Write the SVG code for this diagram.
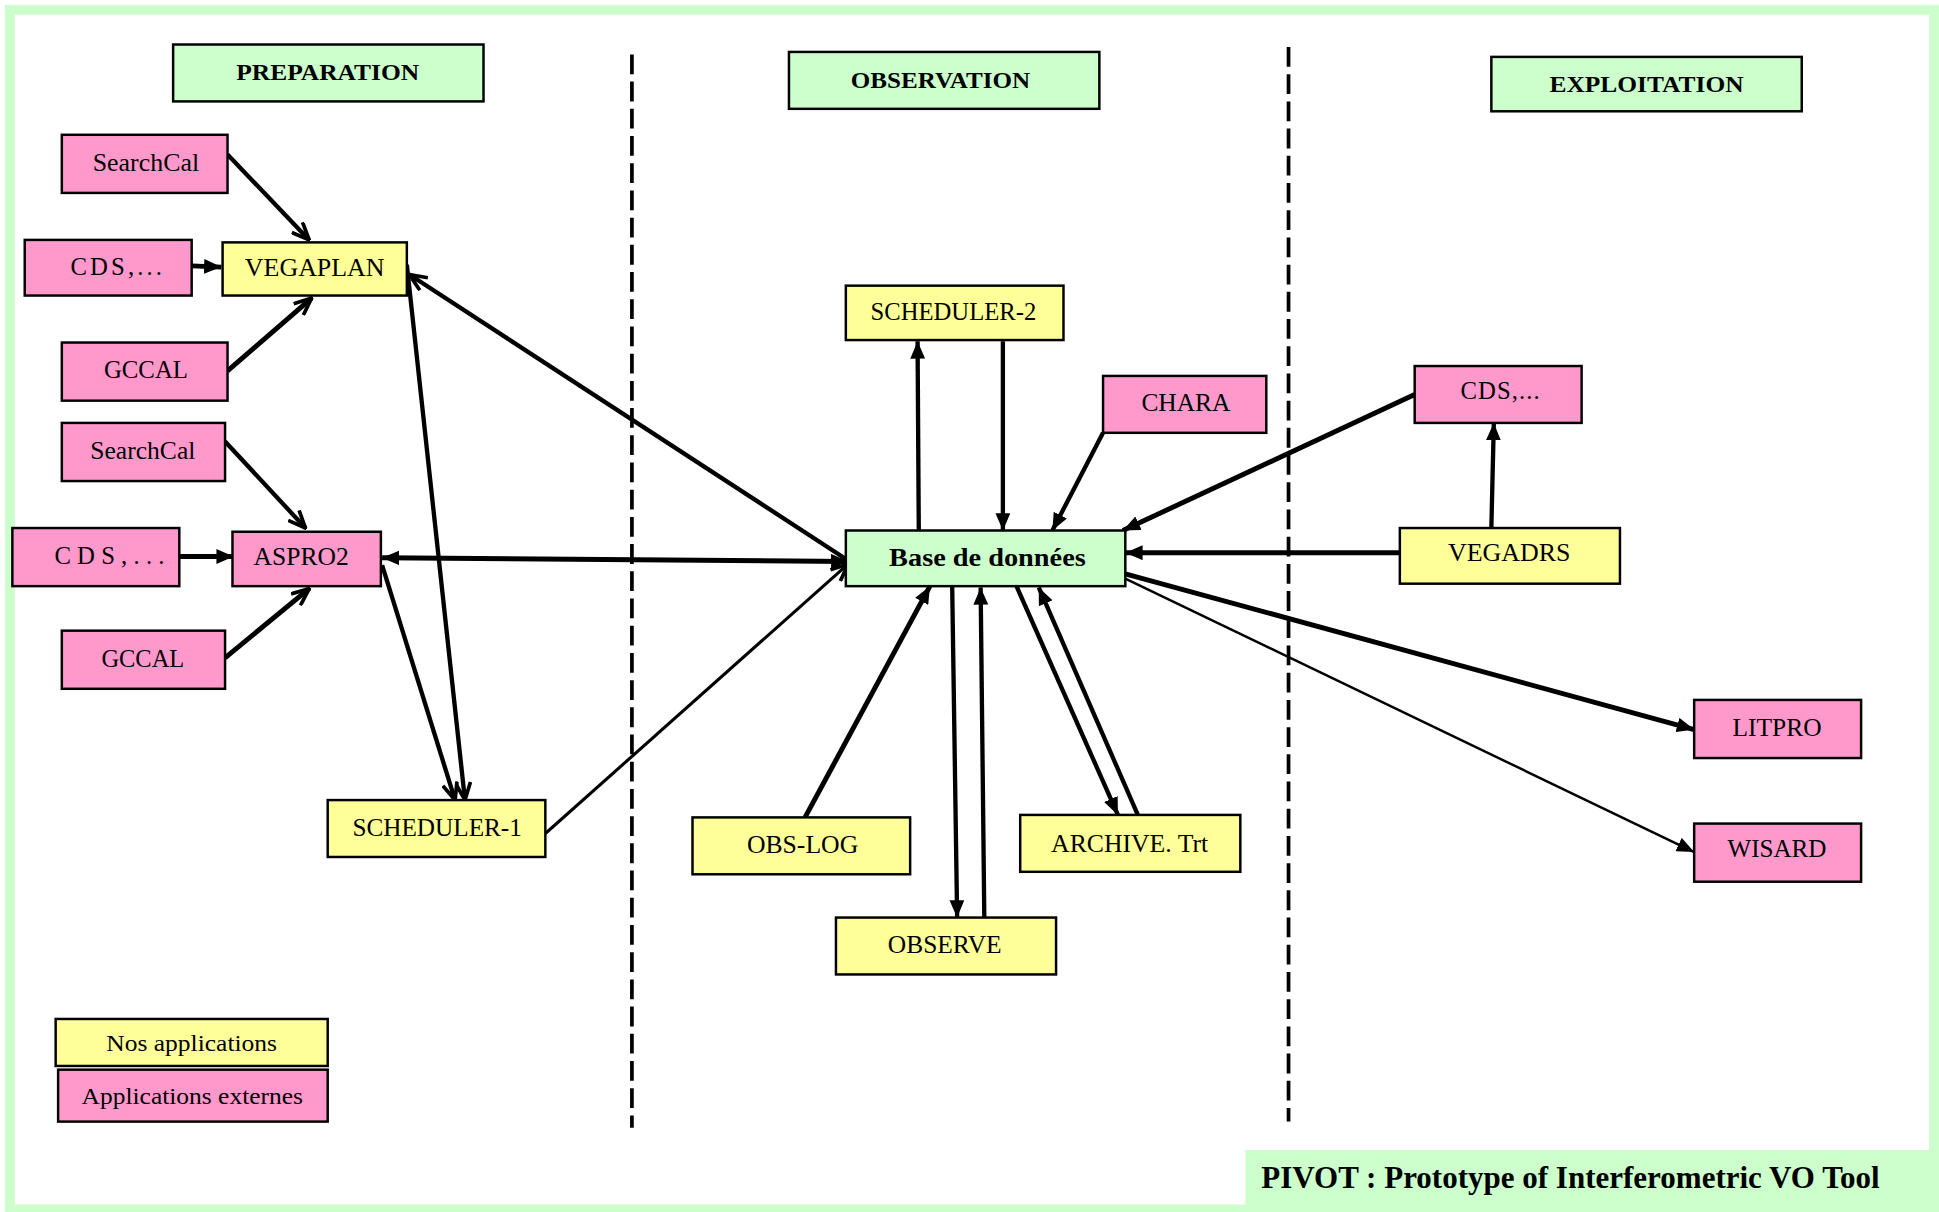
<svg xmlns="http://www.w3.org/2000/svg" width="1939" height="1212" viewBox="0 0 1939 1212">
<style>
.pink{fill:#ff99cc;stroke:#000;stroke-width:2}
.yel{fill:#ffff99;stroke:#000;stroke-width:2}
.grn{fill:#ccffcc;stroke:#000;stroke-width:2}
.lbl{font-family:"Liberation Serif","Times New Roman",serif;font-size:20px;fill:#000}
.hdr{font-family:"Liberation Serif","Times New Roman",serif;font-weight:bold;font-size:19px;fill:#000}
.leg{font-family:"Liberation Serif","Times New Roman",serif;font-size:18px;fill:#000}
.c{fill:none;stroke:#000}
.dash{stroke:#000;stroke-width:3;stroke-dasharray:16 6}
</style>
<defs>
<marker id="f" viewBox="0 0 14 12" refX="14" refY="6" markerWidth="14" markerHeight="12" markerUnits="userSpaceOnUse" orient="auto"><path d="M0,0 L14,6 L0,12 Z" fill="#000"/></marker>
<marker id="fs" viewBox="0 0 14 12" refX="0" refY="6" markerWidth="14" markerHeight="12" markerUnits="userSpaceOnUse" orient="auto"><path d="M14,0 L0,6 L14,12 Z" fill="#000"/></marker>
<marker id="v" viewBox="0 0 16 14" refX="15" refY="7" markerWidth="16" markerHeight="14" markerUnits="userSpaceOnUse" orient="auto"><path d="M1,1 L15,7 L1,13" fill="none" stroke="#000" stroke-width="3"/></marker>
</defs>
<g transform="scale(1.23661)">
<rect x="8" y="8" width="1556" height="970" fill="#fff" stroke="#ccffcc" stroke-width="8"/>
<g id="dividers">
<line class="dash" x1="511" y1="44" x2="511" y2="912"/>
<line class="dash" x1="1042" y1="38" x2="1042" y2="907"/>
</g>
<g id="footer"><rect x="1007" y="930" width="557" height="50" fill="#ccffcc"/>
<text x="1020" y="961" font-family="Liberation Serif,Times New Roman,serif" font-weight="bold" font-size="26" textLength="500" lengthAdjust="spacingAndGlyphs">PIVOT : Prototype of Interferometric VO Tool</text></g>
<g id="h-prep"><rect class="grn" x="140" y="36" width="251" height="46"/><text class="hdr" x="191" y="65" textLength="148" lengthAdjust="spacingAndGlyphs">PREPARATION</text></g>
<g id="h-obs"><rect class="grn" x="638" y="42" width="251" height="46"/><text class="hdr" x="688" y="71" textLength="145" lengthAdjust="spacingAndGlyphs">OBSERVATION</text></g>
<g id="h-exp"><rect class="grn" x="1206" y="46" width="251" height="44"/><text class="hdr" x="1253" y="74" textLength="157" lengthAdjust="spacingAndGlyphs">EXPLOITATION</text></g>

<g id="connectors">
<line class="c" stroke-width="3.5" x1="184" y1="125" x2="250" y2="194" marker-end="url(#v)"/>
<line class="c" stroke-width="4" x1="155" y1="215" x2="179" y2="216" marker-end="url(#f)"/>
<line class="c" stroke-width="4" x1="184" y1="300" x2="252" y2="241" marker-end="url(#v)"/>
<line class="c" stroke-width="3.5" x1="684" y1="452" x2="331" y2="222" marker-end="url(#v)"/>
<line class="c" stroke-width="3.5" x1="329" y1="214" x2="376" y2="647" marker-end="url(#v)"/>
<line class="c" stroke-width="3.5" x1="309" y1="457" x2="368" y2="647" marker-end="url(#v)"/>
<line class="c" stroke-width="3.5" x1="182" y1="357" x2="247" y2="427" marker-end="url(#v)"/>
<line class="c" stroke-width="4" x1="145" y1="450" x2="189" y2="450" marker-end="url(#f)"/>
<line class="c" stroke-width="4" x1="182" y1="532" x2="250" y2="476" marker-end="url(#v)"/>
<line class="c" stroke-width="4" x1="309" y1="451" x2="686" y2="454" marker-start="url(#fs)" marker-end="url(#f)"/>
<line class="c" stroke-width="2.5" x1="441" y1="674" x2="686" y2="456" marker-end="url(#v)"/>
<line class="c" stroke-width="3.5" x1="743" y1="431" x2="742" y2="276" marker-end="url(#f)"/>
<line class="c" stroke-width="3.5" x1="811" y1="276" x2="811" y2="429" marker-end="url(#f)"/>
<line class="c" stroke-width="3.5" x1="892" y1="350" x2="851" y2="429" marker-end="url(#f)"/>
<line class="c" stroke-width="4" x1="1144" y1="319" x2="908" y2="429" marker-end="url(#f)"/>
<line class="c" stroke-width="4" x1="1132" y1="447" x2="910" y2="447" marker-end="url(#f)"/>
<line class="c" stroke-width="3.5" x1="1206" y1="427" x2="1208" y2="342" marker-end="url(#f)"/>
<line class="c" stroke-width="4" x1="910" y1="464" x2="1370" y2="590" marker-end="url(#f)"/>
<line class="c" stroke-width="2" x1="910" y1="468" x2="1370" y2="689" marker-end="url(#f)"/>
<line class="c" stroke-width="4" x1="651" y1="661" x2="752" y2="474" marker-end="url(#f)"/>
<line class="c" stroke-width="3.5" x1="770" y1="474" x2="774" y2="742" marker-end="url(#f)"/>
<line class="c" stroke-width="3.5" x1="796" y1="744" x2="793" y2="475" marker-end="url(#f)"/>
<line class="c" stroke-width="3.5" x1="822" y1="474" x2="904" y2="659" marker-end="url(#f)"/>
<line class="c" stroke-width="3.5" x1="921" y1="661" x2="840" y2="475" marker-end="url(#f)"/>
</g>

<g id="searchcal1"><rect class="pink" x="50" y="109" width="134" height="47"/><text class="lbl" x="75" y="138" textLength="86" lengthAdjust="spacingAndGlyphs">SearchCal</text></g>
<g id="cds1"><rect class="pink" x="20" y="194" width="135" height="45"/><text class="lbl" x="57" y="222" textLength="74" lengthAdjust="spacing">CDS,...</text></g>
<g id="vegaplan"><rect class="yel" x="180" y="196" width="149" height="43"/><text class="lbl" x="198" y="223" textLength="113" lengthAdjust="spacingAndGlyphs">VEGAPLAN</text></g>
<g id="gccal1"><rect class="pink" x="50" y="277" width="134" height="47"/><text class="lbl" x="84" y="306" textLength="68" lengthAdjust="spacingAndGlyphs">GCCAL</text></g>
<g id="searchcal2"><rect class="pink" x="50" y="342" width="132" height="47"/><text class="lbl" x="73" y="371" textLength="85" lengthAdjust="spacingAndGlyphs">SearchCal</text></g>
<g id="cds2"><rect class="pink" x="10" y="427" width="135" height="47"/><text class="lbl" x="44" y="456" textLength="89" lengthAdjust="spacing">CDS,...</text></g>
<g id="aspro2"><rect class="pink" x="188" y="430" width="120" height="44"/><text class="lbl" x="205" y="457" textLength="77" lengthAdjust="spacingAndGlyphs">ASPRO2</text></g>
<g id="gccal2"><rect class="pink" x="50" y="510" width="132" height="47"/><text class="lbl" x="82" y="539" textLength="67" lengthAdjust="spacingAndGlyphs">GCCAL</text></g>
<g id="scheduler1"><rect class="yel" x="265" y="647" width="176" height="46"/><text class="lbl" x="285" y="676" textLength="137" lengthAdjust="spacingAndGlyphs">SCHEDULER-1</text></g>
<g id="scheduler2"><rect class="yel" x="684" y="231" width="176" height="44"/><text class="lbl" x="704" y="259" textLength="134" lengthAdjust="spacingAndGlyphs">SCHEDULER-2</text></g>
<g id="chara"><rect class="pink" x="892" y="304" width="132" height="46"/><text class="lbl" x="923" y="332" textLength="72" lengthAdjust="spacingAndGlyphs">CHARA</text></g>
<g id="base"><rect class="grn" x="684" y="429" width="226" height="45"/><text x="719" y="458" font-family="Liberation Serif,Times New Roman,serif" font-weight="bold" font-size="20" textLength="159" lengthAdjust="spacingAndGlyphs">Base de données</text></g>
<g id="cds3"><rect class="pink" x="1144" y="296" width="135" height="46"/><text class="lbl" x="1181" y="323" textLength="64" lengthAdjust="spacing">CDS,...</text></g>
<g id="vegadrs"><rect class="yel" x="1132" y="427" width="178" height="45"/><text class="lbl" x="1171" y="454" textLength="99" lengthAdjust="spacingAndGlyphs">VEGADRS</text></g>
<g id="litpro"><rect class="pink" x="1370" y="566" width="135" height="47"/><text class="lbl" x="1401" y="595" textLength="72" lengthAdjust="spacingAndGlyphs">LITPRO</text></g>
<g id="wisard"><rect class="pink" x="1370" y="666" width="135" height="47"/><text class="lbl" x="1397" y="693" textLength="80" lengthAdjust="spacingAndGlyphs">WISARD</text></g>
<g id="obslog"><rect class="yel" x="560" y="661" width="176" height="46"/><text class="lbl" x="604" y="690" textLength="90" lengthAdjust="spacingAndGlyphs">OBS-LOG</text></g>
<g id="observe"><rect class="yel" x="676" y="742" width="178" height="46"/><text class="lbl" x="718" y="771" textLength="92" lengthAdjust="spacingAndGlyphs">OBSERVE</text></g>
<g id="archive"><rect class="yel" x="825" y="659" width="178" height="46"/><text class="lbl" x="850" y="689" textLength="127" lengthAdjust="spacingAndGlyphs">ARCHIVE. Trt</text></g>
<g id="legend-nos"><rect class="yel" x="45" y="824" width="220" height="38"/><text class="leg" x="86" y="850" textLength="138" lengthAdjust="spacingAndGlyphs">Nos applications</text></g>
<g id="legend-ext"><rect class="pink" x="47" y="865" width="218" height="42"/><text class="leg" x="66" y="893" textLength="179" lengthAdjust="spacingAndGlyphs">Applications externes</text></g>
</g>
</svg>
